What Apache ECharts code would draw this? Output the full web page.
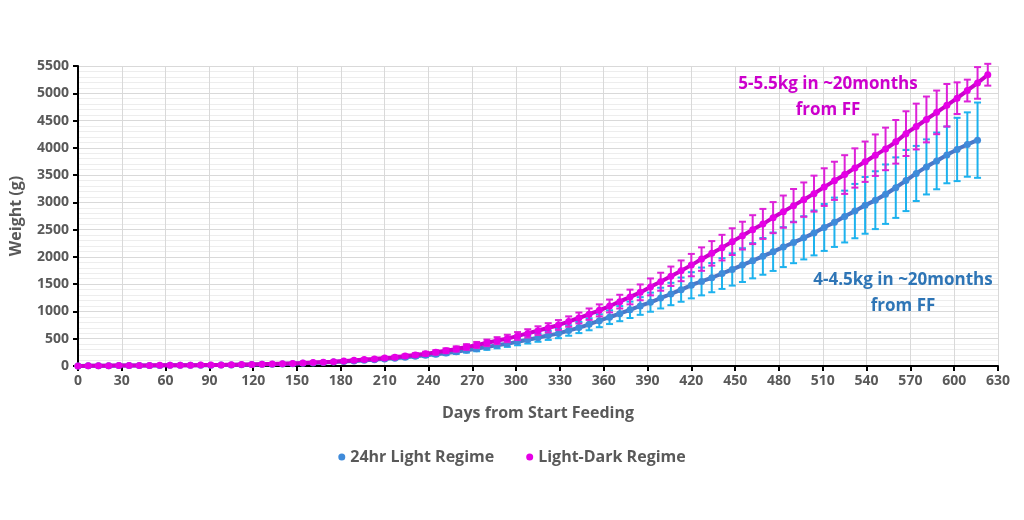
<!DOCTYPE html>
<html>
<head>
<meta charset="utf-8">
<script src="https://cdn.jsdelivr.net/npm/echarts@6/dist/echarts.min.js"></script>
<style>
  html, body { margin: 0; padding: 0; background: #fff; }
  #main { width: 1024px; height: 520px; }
</style>
</head>
<body>
<div id="main"></div>
<script>
// weekly weigh days (days from start feeding)
const days24 = [
  0, 7, 14, 21, 28, 35, 42, 49, 56, 63,
  70, 77, 84, 91, 98, 105, 112, 119, 126, 133,
  140, 147, 154, 161, 168, 175, 182, 189, 196, 203,
  210, 217, 224, 231, 238, 245, 252, 259, 266, 273,
  280, 287, 294, 301, 308, 315, 322, 329, 336, 343,
  350, 357, 364, 371, 378, 385, 392, 399, 406, 413,
  420, 427, 434, 441, 448, 455, 462, 469, 476, 483,
  490, 497, 504, 511, 518, 525, 532, 539, 546, 553,
  560, 567, 574, 581, 588, 595, 602, 609, 616
];
const daysLD = days24.concat([623]);

// 24hr light regime: mean weight (g) and sd
const weight24 = [
  2, 3, 4, 5, 7, 8, 9, 10, 11, 12,
  13, 14, 15, 16, 18, 20, 23, 27, 30, 34,
  38, 43, 50, 57, 64, 72, 82, 93, 104, 116,
  130, 144, 160, 177, 196, 216, 238, 262, 290, 318,
  348, 380, 410, 445, 482, 520, 560, 598, 650, 705,
  765, 830, 895, 960, 1030, 1100, 1170, 1245, 1320, 1400,
  1480, 1550, 1620, 1695, 1770, 1850, 1930, 2010, 2095, 2180,
  2265, 2350, 2440, 2540, 2635, 2740, 2840, 2945, 3040, 3150,
  3270, 3400, 3530, 3650, 3760, 3870, 3970, 4060, 4140
];
const sd24 = [
  1, 1, 1, 2, 2, 2, 2, 3, 3, 3,
  3, 3, 4, 4, 4, 5, 5, 6, 6, 7,
  8, 9, 10, 11, 12, 13, 15, 16, 18, 20,
  22, 24, 27, 29, 32, 35, 38, 41, 44, 48,
  52, 56, 60, 65, 70, 76, 82, 88, 95, 102,
  110, 118, 126, 138, 150, 162, 175, 190, 205, 222,
  240, 255, 268, 282, 296, 310, 323, 337, 352, 366,
  380, 396, 412, 430, 452, 475, 498, 520, 530, 545,
  555, 560, 505, 505, 520, 520, 580, 590, 690
];

// light-dark regime: mean weight (g) and sd
const weightLD = [
  2, 3, 5, 6, 8, 9, 10, 11, 12, 13,
  14, 15, 17, 18, 20, 23, 26, 29, 33, 37,
  42, 48, 55, 63, 71, 80, 92, 104, 117, 130,
  145, 162, 182, 203, 225, 250, 280, 312, 348, 385,
  425, 465, 505, 550, 598, 648, 700, 752, 815, 880,
  950, 1020, 1100, 1180, 1265, 1350, 1450, 1545, 1645, 1745,
  1850, 1960, 2065, 2170, 2280, 2390, 2500, 2605, 2720, 2830,
  2940, 3050, 3160, 3280, 3395, 3510, 3630, 3745, 3865, 3980,
  4110, 4260, 4390, 4520, 4650, 4780, 4910, 5050, 5190, 5340
];
const sdLD = [
  1, 1, 2, 2, 2, 2, 3, 3, 3, 3,
  4, 4, 4, 5, 5, 6, 6, 7, 8, 9,
  10, 11, 12, 13, 14, 15, 17, 19, 20, 22,
  24, 27, 30, 33, 36, 40, 44, 48, 52, 56,
  60, 64, 68, 72, 76, 80, 85, 90, 95, 100,
  105, 110, 118, 126, 135, 145, 155, 165, 178, 190,
  205, 215, 225, 235, 245, 255, 265, 275, 285, 295,
  305, 315, 330, 345, 350, 355, 360, 370, 380, 390,
  400, 410, 420, 420, 400, 390, 290, 200, 290, 200
];

const seriesNames = ['24hr Light Regime', 'Light-Dark Regime'];
const notes = ['5-5.5kg in ~20months\nfrom FF', '4-4.5kg in ~20months\nfrom FF'];

const FONT = 'Open Sans';
const GREY = '#595959';

const chart = echarts.init(document.getElementById('main'));

function points(xs, ys) {
  return xs.map((d, i) => [d, ys[i]]);
}
function bars(xs, ys, sds) {
  return xs.map((d, i) => [d, ys[i] - sds[i], ys[i] + sds[i]]);
}

// error bars with small caps
function errorBar(color) {
  return function (params, api) {
    const x = api.value(0);
    const lo = api.coord([x, api.value(1)]);
    const hi = api.coord([x, api.value(2)]);
    const w = 3.5;
    const style = { stroke: color, lineWidth: 2 };
    return {
      type: 'group',
      children: [
        { type: 'line', shape: { x1: lo[0], y1: lo[1], x2: hi[0], y2: hi[1] }, style: style },
        { type: 'line', shape: { x1: lo[0] - w, y1: lo[1], x2: lo[0] + w, y2: lo[1] }, style: style },
        { type: 'line', shape: { x1: hi[0] - w, y1: hi[1], x2: hi[0] + w, y2: hi[1] }, style: style }
      ]
    };
  };
}

const labelStyle = { color: GREY, fontSize: 14, fontWeight: 'bold', fontFamily: FONT };
const titleStyle = { color: GREY, fontSize: 16, fontWeight: 'bold', fontFamily: FONT };

function note(text, color, x, y) {
  return {
    text: text,
    left: x,
    top: y,
    textAlign: 'center',
    padding: 0,
    textStyle: { color: color, fontSize: 17, fontWeight: 'bold', fontFamily: FONT, lineHeight: 26 }
  };
}

const option = {
  backgroundColor: '#fff',
  animation: false,
  title: [
    note(notes[0], '#CC00CC', 828, 71),
    note(notes[1], '#2E75B6', 903, 267)
  ],
  grid: { left: 76, right: 26, top: 66, bottom: 154 },
  legend: {
    data: seriesNames,
    top: 444,
    left: 'center',
    icon: 'circle',
    itemWidth: 7,
    itemHeight: 7,
    itemGap: 32,
    textStyle: titleStyle
  },
  xAxis: {
    type: 'value',
    min: 0,
    max: 630,
    interval: 30,
    name: 'Days from Start Feeding',
    nameLocation: 'middle',
    nameGap: 39,
    nameTextStyle: titleStyle,
    axisLine: { onZero: false, lineStyle: { color: '#000', width: 2 } },
    axisTick: { show: true, inside: false, length: 5, lineStyle: { color: '#000', width: 2 } },
    axisLabel: Object.assign({ margin: 8 }, labelStyle),
    splitLine: { show: true, lineStyle: { color: '#D9D9D9', width: 1 } }
  },
  yAxis: {
    type: 'value',
    min: 0,
    max: 5500,
    interval: 500,
    name: 'Weight (g)',
    nameLocation: 'middle',
    nameGap: 54,
    nameTextStyle: titleStyle,
    axisLine: { show: true, lineStyle: { color: '#000', width: 2 } },
    axisTick: { show: true, inside: false, length: 5, lineStyle: { color: '#000', width: 2 } },
    axisLabel: Object.assign({ margin: 9, formatter: (v) => String(v) }, labelStyle),
    splitLine: { show: true, lineStyle: { color: '#D9D9D9', width: 1 } },
    minorTick: { show: false, splitNumber: 5 },
    minorSplitLine: { show: true, lineStyle: { color: '#EDEDED', width: 1 } }
  },
  series: [
    {
      name: seriesNames[0] + ' sd',
      type: 'custom',
      renderItem: errorBar('#1DB2EE'),
      encode: { x: 0, y: [1, 2] },
      data: bars(days24, weight24, sd24),
      z: 2,
      silent: true
    },
    {
      name: seriesNames[0],
      type: 'line',
      smooth: true,
      data: points(days24, weight24),
      symbol: 'circle',
      symbolSize: 7,
      itemStyle: { color: '#3F8BDA' },
      lineStyle: { color: '#4A78C8', width: 4 },
      z: 3
    },
    {
      name: seriesNames[1] + ' sd',
      type: 'custom',
      renderItem: errorBar('#DD22D8'),
      encode: { x: 0, y: [1, 2] },
      data: bars(daysLD, weightLD, sdLD),
      z: 4,
      silent: true
    },
    {
      name: seriesNames[1],
      type: 'line',
      smooth: true,
      data: points(daysLD, weightLD),
      symbol: 'circle',
      symbolSize: 7,
      itemStyle: { color: '#E600E6' },
      lineStyle: { color: '#CC00CC', width: 4 },
      z: 5
    }
  ]
};

chart.setOption(option);
</script>
</body>
</html>
